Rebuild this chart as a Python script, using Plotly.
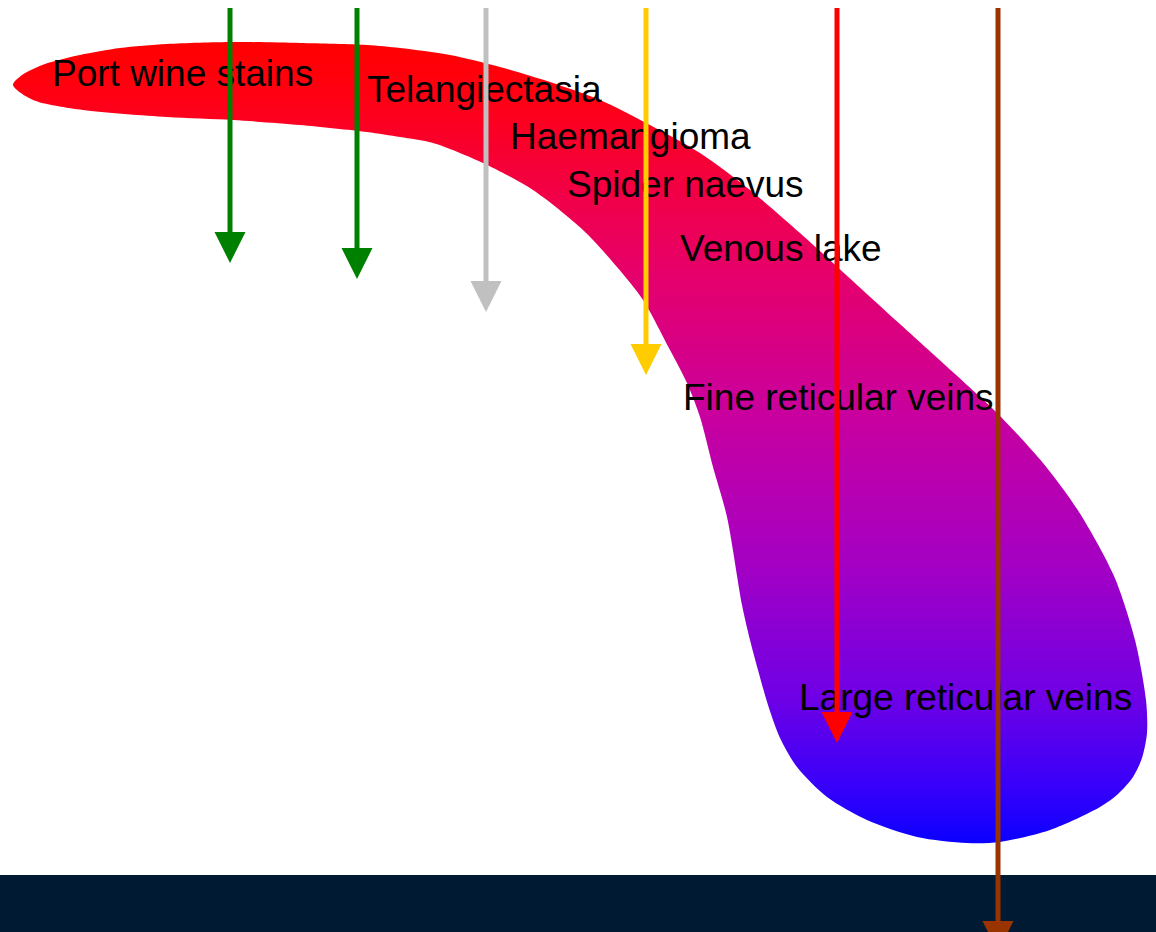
import plotly.graph_objects as go

# ---- data (pixel-space diagram: x across, y = depth downward) ----
# outline of the vessel-depth band (clockwise, starting at left tip)
blob_x = [13, 22, 45, 80, 120, 167, 233, 300, 367, 400, 450, 500, 550, 600, 650, 700, 750, 800, 845,
          901, 955, 997, 1043, 1079, 1114, 1135, 1146, 1147, 1142, 1133, 1118, 1100, 1050, 1000, 967, 917,
          867, 827, 797, 780, 768, 758, 750, 742, 727, 713, 700, 687, 670, 643, 617, 583, 533, 483, 433,
          400, 367, 300, 233, 167, 83, 33, 13]
blob_y = [85, 75, 64, 55, 48, 44, 42, 43, 45, 48, 55, 67, 82, 100, 125, 153, 190, 233, 274,
          325, 374, 413, 463, 512, 576, 640, 700, 733, 758, 777, 794, 807, 830, 842, 843, 837,
          820, 797, 767, 738, 705, 670, 640, 605, 517, 467, 417, 383, 350, 300, 267, 230, 190, 163, 143,
          137, 132, 125, 120, 117, 110, 100, 85]
gradient_stops = [0, 0.07, 0.2, 0.3, 0.47, 0.65, 0.82, 0.93, 1.0]
gradient_colors = ["#ff0000", "#ff0014", "#f0004b", "#e4006e", "#c800a0", "#a500c3",
                   "#6e00e6", "#3700fa", "#0a00ff"]

labels = ["Port wine stains", "Telangiectasia", "Haemangioma", "Spider naevus",
          "Venous lake", "Fine reticular veins", "Large reticular veins"]
label_x = [52, 367, 510, 567, 680, 683, 799]
label_y = [77, 93, 140, 188, 252, 401, 701]

arrow_x = [230, 357, 486, 646, 837, 998]
arrow_tip = [263, 279, 312, 375, 743, 952]
arrow_colors = ["#008000", "#008000", "#c0c0c0", "#ffcc00", "#ff0000", "#993300"]
arrow_start = 8

W, H = 1156, 932
band_top = 875
HEAD_W, HEAD_H = 31, 31

fig = go.Figure()

fig.add_trace(go.Scatter(
    x=blob_x, y=blob_y, mode="lines", fill="toself",
    line=dict(width=0, color="rgba(0,0,0,0)", shape="spline", smoothing=0.8),
    fillgradient=dict(type="vertical",
                      colorscale=[[s, c] for s, c in zip(gradient_stops, gradient_colors)],
                      start=min(blob_y), stop=max(blob_y)),
    hoverinfo="skip", showlegend=False))

fig.add_trace(go.Scatter(
    x=label_x, y=label_y, mode="text", text=labels, textposition="middle right",
    textfont=dict(family="Liberation Sans, Arial, sans-serif", size=37, color="#000000"),
    hoverinfo="skip", showlegend=False))

for xa, tip, col in zip(arrow_x, arrow_tip, arrow_colors):
    fig.add_trace(go.Scatter(
        x=[xa, xa], y=[arrow_start, tip - HEAD_H + 2], mode="lines",
        line=dict(color=col, width=5), hoverinfo="skip", showlegend=False))
    fig.add_trace(go.Scatter(
        x=[xa - HEAD_W / 2, xa + HEAD_W / 2, xa, xa - HEAD_W / 2],
        y=[tip - HEAD_H, tip - HEAD_H, tip, tip - HEAD_H],
        mode="lines", fill="toself", fillcolor=col, line=dict(width=0, color=col),
        hoverinfo="skip", showlegend=False))

fig.add_shape(type="rect", x0=0, x1=W, y0=band_top, y1=H + 40,
              fillcolor="#001a33", line=dict(width=0), layer="below")

fig.update_layout(
    width=W, height=H, margin=dict(l=0, r=0, t=0, b=0),
    paper_bgcolor="white", plot_bgcolor="white",
    xaxis=dict(range=[0, W], visible=False, fixedrange=True),
    yaxis=dict(range=[H, 0], visible=False, fixedrange=True),
    showlegend=False)

fig.write_html("out.html", config={"displayModeBar": False, "staticPlot": True},
               post_script="document.body.style.margin='0';document.body.style.overflow='hidden';")
